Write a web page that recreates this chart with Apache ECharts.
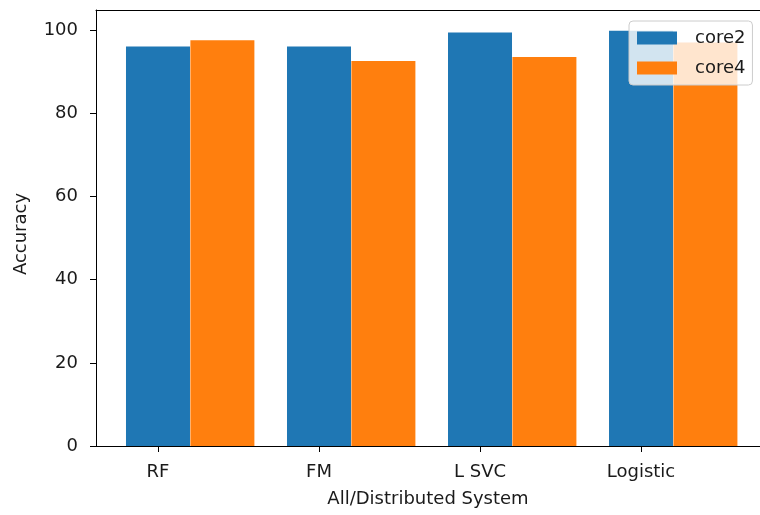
<!DOCTYPE html>
<html>
<head>
<meta charset="utf-8">
<script src="https://cdn.jsdelivr.net/npm/echarts@6/dist/echarts.min.js"></script>
<style>html,body{margin:0;padding:0;background:#fff}#c{width:760px;height:515px}</style>
</head>
<body>
<div id="c"></div>
<script>
const categories = ["RF", "FM", "L SVC", "Logistic"];
const core2 = [96.1, 96.1, 99.5, 99.9];
const core4 = [97.6, 92.6, 93.6, 97.1];
const yTicks = [0, 20, 40, 60, 80, 100];
const seriesNames = ["core2", "core4"];

const BAR_W = 0.4; // bar width in axis units
const catIdx = categories.map((c, i) => i);
const FONT = "DejaVu Sans";
const TXT = "#1a1a1a";
const X_MIN = -0.385, X_MAX = 3.739;

const chart = echarts.init(document.getElementById('c'), null, {renderer: 'canvas'});
chart.setOption({
  animation: false,
  textStyle: {fontFamily: FONT},
  grid: {left: 96, top: 10, bottom: 69, right: 0, show: false},
  legend: {
    orient: 'vertical', left: 629, top: 21,
    data: seriesNames,
    icon: 'rect', itemWidth: 40, itemHeight: 13, itemGap: 12,
    padding: [8, 7, 8, 8],
    backgroundColor: 'rgba(255,255,255,0.8)',
    borderColor: '#cccccc', borderWidth: 1, borderRadius: 4,
    textStyle: {fontFamily: FONT, fontSize: 18, color: TXT, lineHeight: 18, padding: [0, 0, 0, 13]}
  },
  xAxis: [{
    type: 'value', min: X_MIN, max: X_MAX, position: 'bottom',
    splitLine: {show: false},
    axisLine: {show: true, onZero: false, lineStyle: {color: '#000', width: 1}},
    axisTick: {show: true, length: 6, lineStyle: {color: '#000'}, customValues: catIdx},
    axisLabel: {customValues: catIdx, formatter: v => categories[Math.round(v)], fontFamily: FONT, fontSize: 18, color: TXT, margin: 17},
    name: 'All/Distributed System', nameLocation: 'middle', nameGap: 44,
    nameTextStyle: {fontFamily: FONT, fontSize: 18, color: TXT}
  }, {
    type: 'value', min: X_MIN, max: X_MAX, position: 'top',
    splitLine: {show: false},
    axisLine: {show: true, onZero: false, lineStyle: {color: '#000', width: 1}},
    axisTick: {show: false}, axisLabel: {show: false}
  }],
  yAxis: {
    type: 'value', min: 0, max: 104.9,
    splitLine: {show: false},
    axisLine: {show: true, onZero: false, lineStyle: {color: '#000', width: 1}},
    axisTick: {show: true, length: 6, lineStyle: {color: '#000'}, customValues: yTicks},
    axisLabel: {customValues: yTicks, fontFamily: FONT, fontSize: 18, color: TXT, margin: 18},
    name: 'Accuracy', nameLocation: 'middle', nameGap: 66, nameRotate: 90,
    nameTextStyle: {fontFamily: FONT, fontSize: 18, color: TXT, padding: [0, 12, 0, 0]}
  },
  series: [
    {name: 'core2', type: 'bar', xAxisIndex: 0, barWidth: 64, barGap: '-100%', itemStyle: {color: '#1f77b4'},
     data: core2.map((v, i) => [i, v])},
    {name: 'core4', type: 'bar', xAxisIndex: 0, barWidth: 64, barGap: '-100%', itemStyle: {color: '#ff7f0e'},
     data: core4.map((v, i) => [i + BAR_W, v])}
  ]
});
</script>
</body>
</html>
